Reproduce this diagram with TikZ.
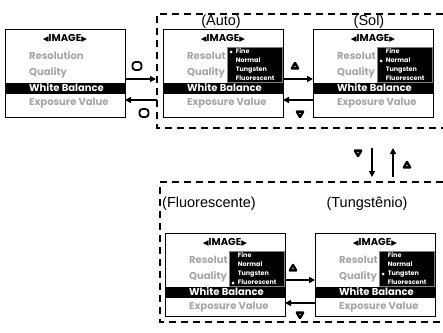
\documentclass[tikz,border=0pt]{standalone}
\usepackage{fontspec}
\setmainfont{Liberation Sans}
\newfontfamily\scrfont{Poppins}
\newfontfamily\symfont{DejaVu Sans}
\usetikzlibrary{arrows.meta,calc}
\definecolor{itemgray}{RGB}{165,165,165}
\tikzset{
  screenbox/.style={draw=black, line width=1pt, fill=white, minimum width=120pt, anchor=north west, inner sep=0pt, outer sep=0pt},
  title/.style={font=\scrfont\bfseries\fontsize{10}{10}\selectfont, inner sep=0pt},
  item/.style={font=\scrfont\bfseries\fontsize{10}{10}\selectfont, text=itemgray, anchor=west, inner sep=0pt, text height=7.2pt, text depth=1.8pt},
  sub/.style={font=\scrfont\bfseries\fontsize{6.4}{6.4}\selectfont, text=white, anchor=west, inner sep=0pt, text height=4.6pt, text depth=1.2pt},
  grp/.style={dash pattern=on 7pt off 5pt, line width=2.2pt},
  arr/.style={line width=1.4pt, -{Triangle[length=6pt,width=6pt]}},
  caption/.style={font=\fontsize{14.5}{15}\selectfont, inner sep=0pt},
  okbtn/.style={draw, line width=1.8pt, rounded corners=3pt, minimum width=9pt, minimum height=8pt, inner sep=0pt},
  upbtn/.pic={\draw[line width=2.4pt, line join=round, fill=white] (-3.2,2.4) -- (3.2,2.4) -- (0,-3) -- cycle;},
  dnbtn/.pic={\draw[line width=2.4pt, line join=round, fill=white] (-3.2,-2.4) -- (3.2,-2.4) -- (0,3) -- cycle;},
}
\newcommand{\menuscreen}[5]{%
  \node[screenbox, minimum height=#4pt] (#1) at (#2,#3) {};
  \node[title] (#1-t) at ($(#1.north)+(0,9)$) {{\symfont\fontsize{7.5}{7.5}\selectfont ◀}IMAGE{\symfont\fontsize{7.5}{7.5}\selectfont ▶}};
  \node[item] (#1-r) at ($(#1.north west)+(24,28)$) {#5};
  \node[item] (#1-q) at ($(#1.north west)+(24,44)$) {Quality};
  \fill[black] ($(#1.north west)+(0,54)$) rectangle ($(#1.north east)+(0,65)$);
  \node[item, text=white] (#1-w) at ($(#1.north west)+(24,59.5)$) {White Balance};
  \node[item] (#1-e) at ($(#1.north west)+(24,74)$) {Exposure Value};
}
\newcommand{\wbsubmenu}[2]{%
  \node[fill=black, draw=gray, line width=0.4pt, minimum width=55pt, minimum height=35pt, anchor=north east, inner sep=0pt] (#1-m) at ($(#1.north east)+(-1,18)$) {};
  \foreach \lbl [count=\i] in {Fine,Normal,Tungsten,Fluorescent} {
    \node[sub] (#1-m\i) at ($(#1-m.north west)+(9,{5+9*(\i-1)})$) {\lbl};
  }
  \fill[white] ($(#1-m.north west)+(4.5,{5+9*(#2-1)})$) circle (1.6pt);
}
\begin{document}
\begin{tikzpicture}[x=1pt,y=-1pt]
\useasboundingbox (0,0) rectangle (443,332);
% groups
\coordinate (tg) at (157,14);
\coordinate (bg) at (160,182);
\draw[grp] (443,14) -- (tg) -- (157,128) -- (443,128);
\draw[grp] (443,182) -- (bg) -- (160,322) -- (443,322);
% screens
\menuscreen{s0}{5}{29}{88}{Resolution}
\menuscreen{sA}{163}{29}{88}{Resolut}
\wbsubmenu{sA}{1}
\menuscreen{sS}{313}{29}{88}{Resolut}
\wbsubmenu{sS}{2}
\menuscreen{sF}{165}{233}{83}{Resolut}
\wbsubmenu{sF}{4}
\menuscreen{sT}{315}{233}{83}{Resolut}
\wbsubmenu{sT}{3}
% captions
\node[caption] (cA) at (221,22) {(Auto)};
\node[caption] (cS) at (369,22) {(Sol)};
\node[caption, anchor=west] (cF) at (162,203.5) {(Fluorescente)};
\node[caption] (cT) at (367,203.5) {(Tungstênio)};
% left arrows
\coordinate (s0o) at ($(s0.north east)+(0,50)$);
\coordinate (s0i) at ($(s0.north east)+(0,71)$);
\draw[arr, shorten >=1pt] (s0o) -- (s0o -| tg);
\draw[arr] (s0i -| tg) -- (s0i);
\node[okbtn] (b1) at (137,66) {};
\node[okbtn] (b2) at (144,113) {};
% top pair
\draw[arr] ($(sA.north east)+(0,50)$) -- ($(sS.north west)+(0,50)$);
\draw[arr] ($(sS.north west)+(0,71)$) -- ($(sA.north east)+(0,71)$);
\pic at (295,66) {upbtn};
\pic at (300,114) {dnbtn};
% vertical
\coordinate (v1a) at (372,148);
\coordinate (v1b) at (372,177);
\coordinate (v2a) at (393,177);
\coordinate (v2b) at (393,148);
\draw[arr] (v1a) -- (v1b);
\draw[arr] (v2a) -- (v2b);
\pic at (358,153) {dnbtn};
\pic at (407,165) {upbtn};
% bottom pair
\draw[arr] ($(sF.north east)+(0,47)$) -- ($(sT.north west)+(0,47)$);
\draw[arr] ($(sT.north west)+(0,70)$) -- ($(sF.north east)+(0,70)$);
\pic at (293,268) {upbtn};
\pic at (300,315) {dnbtn};
\end{tikzpicture}
\end{document}
